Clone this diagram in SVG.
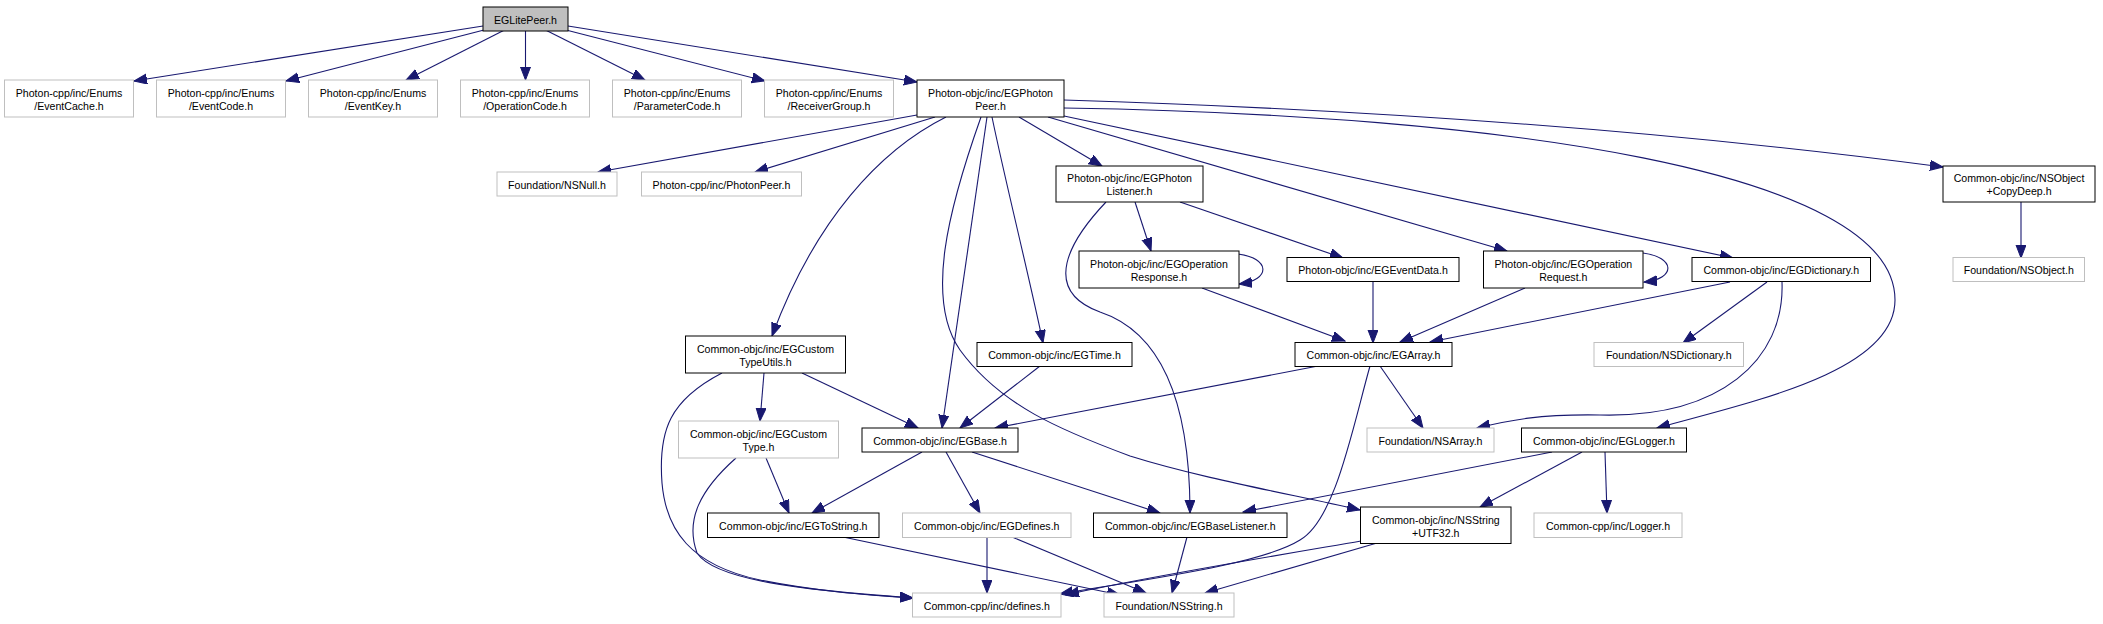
<svg xmlns="http://www.w3.org/2000/svg" width="2103" height="624" viewBox="0 0 2103 624">
<style>
.n rect{fill:#ffffff;stroke:#000000;stroke-width:1}
.n.u rect{stroke:#bfbfbf}
.n.root rect{fill:#bfbfbf}
.n text{font-family:"Liberation Sans",Arial,Helvetica,sans-serif;font-size:10.6px;fill:#000000;text-anchor:middle}
#edges path{fill:none;stroke:#191970;stroke-width:1.1;marker-end:url(#ah)}
</style>
<defs>
<marker id="ah" markerUnits="userSpaceOnUse" markerWidth="14" markerHeight="11" refX="13" refY="5" orient="auto">
<path d="M0,0 L13,5 L0,10 z" fill="#191970" stroke="#191970" stroke-width="1"/>
</marker>
</defs>
<rect x="0" y="0" width="2103" height="624" fill="#ffffff"/>
<g id="edges">
<path d="M483,26 L134,81"/>
<path d="M484,30 L286,81"/>
<path d="M504.5,30 L406,80"/>
<path d="M525.5,31 L525.5,80"/>
<path d="M545.5,30 L645,80"/>
<path d="M566,30 L765,81"/>
<path d="M568,26 L917,82"/>
<path d="M917,115 L598,172"/>
<path d="M935,117 L755,172"/>
<path d="M946,117 C880,150 815,220 772,336"/>
<path d="M987,117 L942,428"/>
<path d="M981,117 C948,210 925,300 960,350 C1000,405 1060,430 1130,456 C1200,478 1290,494 1360,510"/>
<path d="M992,117 C1005,180 1030,280 1043,343"/>
<path d="M1019,117 L1102,166"/>
<path d="M1048,117 L1507,251"/>
<path d="M1064,116 L1733,258"/>
<path d="M1064,100 Q1550,115 1943,167"/>
<path d="M1064,108 C1500,115 1895,170 1895,300 C1895,370 1760,400 1657,428"/>
<path d="M1135,202 L1151,251"/>
<path d="M1180,202 L1343,258"/>
<path d="M1106,202 C1070,240 1040,290 1100,312 C1160,332 1190,400 1190,513"/>
<path d="M1238,254 C1270,258 1272,280 1239,284"/>
<path d="M1643,253 C1675,257 1677,279 1644,282"/>
<path d="M1202,288 L1345,341"/>
<path d="M1373,282 L1373,343"/>
<path d="M1525,288 L1400,342"/>
<path d="M1730,282 L1430,342"/>
<path d="M1767,282 L1683,343"/>
<path d="M1782,282 C1785,360 1720,418 1600,415 C1540,414 1510,420 1477,428"/>
<path d="M1380,366 L1423,428"/>
<path d="M1318,366 L995,428"/>
<path d="M1370,366 C1352,430 1335,520 1300,540 C1260,565 1140,580 1060,594"/>
<path d="M1361,541 C1250,560 1130,580 1066,595"/>
<path d="M1377,543 L1205,593"/>
<path d="M1187,537 L1172,593"/>
<path d="M1552,452 L1243,512"/>
<path d="M1582,452 L1480,507"/>
<path d="M1605,452 L1607,513"/>
<path d="M922,452 L812,513"/>
<path d="M946,452 L980,513"/>
<path d="M972,452 L1160,513"/>
<path d="M764,373 L760,421"/>
<path d="M802,373 L918,428"/>
<path d="M722,373 C670,400 658,430 662,483 C666,530 690,565 760,580 C820,592 870,595 913,598"/>
<path d="M766,458 L789,513"/>
<path d="M736,458 C700,490 685,520 697,553 C715,580 800,590 913,598"/>
<path d="M843,537 L1120,595"/>
<path d="M987,537 L987,593"/>
<path d="M1012,537 L1146,593"/>
<path d="M1040,366 L960,428"/>
<path d="M2021,202 L2021,258"/>
</g>
<g id="n0" class="n root"><rect x="483" y="7" width="85" height="24"/><text x="525.5" y="23.5">EGLitePeer.h</text></g>
<g id="n1" class="n u"><rect x="4.5" y="80" width="129" height="37"/><text x="69" y="96.8">Photon-cpp/inc/Enums</text><text x="69" y="109.8">/EventCache.h</text></g>
<g id="n2" class="n u"><rect x="156.5" y="80" width="129" height="37"/><text x="221" y="96.8">Photon-cpp/inc/Enums</text><text x="221" y="109.8">/EventCode.h</text></g>
<g id="n3" class="n u"><rect x="308.5" y="80" width="129" height="37"/><text x="373" y="96.8">Photon-cpp/inc/Enums</text><text x="373" y="109.8">/EventKey.h</text></g>
<g id="n4" class="n u"><rect x="460.5" y="80" width="129" height="37"/><text x="525" y="96.8">Photon-cpp/inc/Enums</text><text x="525" y="109.8">/OperationCode.h</text></g>
<g id="n5" class="n u"><rect x="612.5" y="80" width="129" height="37"/><text x="677" y="96.8">Photon-cpp/inc/Enums</text><text x="677" y="109.8">/ParameterCode.h</text></g>
<g id="n6" class="n u"><rect x="764.5" y="80" width="129" height="37"/><text x="829" y="96.8">Photon-cpp/inc/Enums</text><text x="829" y="109.8">/ReceiverGroup.h</text></g>
<g id="n7" class="n"><rect x="917" y="80" width="147" height="37"/><text x="990.5" y="96.8">Photon-objc/inc/EGPhoton</text><text x="990.5" y="109.8">Peer.h</text></g>
<g id="n8" class="n u"><rect x="497" y="172" width="120" height="24"/><text x="557" y="188.5">Foundation/NSNull.h</text></g>
<g id="n9" class="n u"><rect x="641.5" y="172" width="160" height="24"/><text x="721.5" y="188.5">Photon-cpp/inc/PhotonPeer.h</text></g>
<g id="n10" class="n"><rect x="1056" y="166" width="147" height="36"/><text x="1129.5" y="182.3">Photon-objc/inc/EGPhoton</text><text x="1129.5" y="195.3">Listener.h</text></g>
<g id="n11" class="n"><rect x="1943" y="166" width="152" height="36"/><text x="2019" y="182.3">Common-objc/inc/NSObject</text><text x="2019" y="195.3">+CopyDeep.h</text></g>
<g id="n12" class="n"><rect x="1079" y="251" width="160" height="37"/><text x="1159" y="267.8">Photon-objc/inc/EGOperation</text><text x="1159" y="280.8">Response.h</text></g>
<g id="n13" class="n"><rect x="1287" y="257.5" width="172" height="24"/><text x="1373" y="274">Photon-objc/inc/EGEventData.h</text></g>
<g id="n14" class="n"><rect x="1483.5" y="251" width="159.5" height="37"/><text x="1563.3" y="267.8">Photon-objc/inc/EGOperation</text><text x="1563.3" y="280.8">Request.h</text></g>
<g id="n15" class="n"><rect x="1692" y="257.5" width="178.5" height="24"/><text x="1781.3" y="274">Common-objc/inc/EGDictionary.h</text></g>
<g id="n16" class="n u"><rect x="1953" y="257.5" width="131.5" height="24"/><text x="2018.8" y="274">Foundation/NSObject.h</text></g>
<g id="n17" class="n"><rect x="685.5" y="336" width="160" height="37"/><text x="765.5" y="352.8">Common-objc/inc/EGCustom</text><text x="765.5" y="365.8">TypeUtils.h</text></g>
<g id="n18" class="n"><rect x="977" y="342.5" width="155" height="24"/><text x="1054.5" y="359">Common-objc/inc/EGTime.h</text></g>
<g id="n19" class="n"><rect x="1295" y="342.5" width="157" height="24"/><text x="1373.5" y="359">Common-objc/inc/EGArray.h</text></g>
<g id="n20" class="n u"><rect x="1594" y="342.5" width="149.5" height="24"/><text x="1668.8" y="359">Foundation/NSDictionary.h</text></g>
<g id="n21" class="n u"><rect x="678.5" y="421" width="160" height="37"/><text x="758.5" y="437.8">Common-objc/inc/EGCustom</text><text x="758.5" y="450.8">Type.h</text></g>
<g id="n22" class="n"><rect x="862" y="428" width="156" height="24"/><text x="940" y="444.5">Common-objc/inc/EGBase.h</text></g>
<g id="n23" class="n u"><rect x="1367" y="428" width="127" height="24"/><text x="1430.5" y="444.5">Foundation/NSArray.h</text></g>
<g id="n24" class="n"><rect x="1521.5" y="428" width="165" height="24"/><text x="1604" y="444.5">Common-objc/inc/EGLogger.h</text></g>
<g id="n25" class="n"><rect x="707.5" y="513" width="171.5" height="24.5"/><text x="793.3" y="529.8">Common-objc/inc/EGToString.h</text></g>
<g id="n26" class="n u"><rect x="902.5" y="513" width="168.5" height="24.5"/><text x="986.8" y="529.8">Common-objc/inc/EGDefines.h</text></g>
<g id="n27" class="n"><rect x="1093.5" y="513" width="193.5" height="24.5"/><text x="1190.3" y="529.8">Common-objc/inc/EGBaseListener.h</text></g>
<g id="n28" class="n"><rect x="1360.5" y="507" width="150.5" height="36.5"/><text x="1435.8" y="523.6">Common-objc/inc/NSString</text><text x="1435.8" y="536.6">+UTF32.h</text></g>
<g id="n29" class="n u"><rect x="1534" y="513" width="148" height="24.5"/><text x="1608" y="529.8">Common-cpp/inc/Logger.h</text></g>
<g id="n30" class="n u"><rect x="912.5" y="593" width="148.5" height="24"/><text x="986.8" y="609.5">Common-cpp/inc/defines.h</text></g>
<g id="n31" class="n u"><rect x="1104" y="593" width="130" height="24"/><text x="1169" y="609.5">Foundation/NSString.h</text></g>
</svg>
